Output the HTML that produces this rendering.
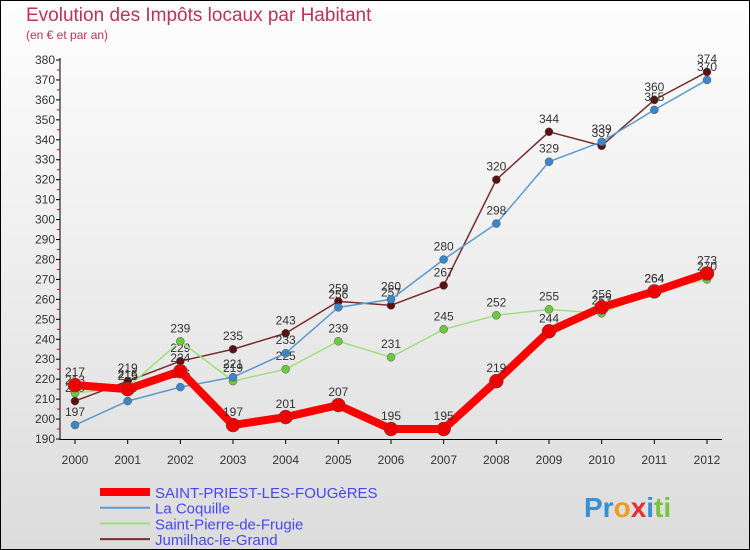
<!DOCTYPE html>
<html><head><meta charset="utf-8"><style>
body{margin:0;width:750px;height:550px;overflow:hidden;font-family:"Liberation Sans",sans-serif}
svg{display:block}
</style></head><body>
<svg id="chart" width="750" height="550" xmlns="http://www.w3.org/2000/svg">
<defs><linearGradient id="bg" x1="0" y1="0" x2="0" y2="1"><stop offset="0" stop-color="#fefefe"/><stop offset="1" stop-color="#dcdcdc"/></linearGradient></defs>
<rect x="0.5" y="0.5" width="749" height="549" fill="url(#bg)" stroke="#000"/>
<text x="26" y="21" font-size="19" fill="#c0305a">Evolution des Impôts locaux par Habitant</text>
<text x="26" y="39" font-size="12" fill="#c0305a">(en € et par an)</text>
<g id="axes"></g><g id="series"></g><g id="legend"></g>
<text x="584" y="517" font-size="28" font-weight="bold"><tspan fill="#3a8fd0">Pr</tspan><tspan fill="#f29a1e">o</tspan><tspan fill="#e53030">x</tspan><tspan fill="#3a8fd0">i</tspan><tspan fill="#7cc242">ti</tspan></text>
</svg>
<script>
const years=[2000,2001,2002,2003,2004,2005,2006,2007,2008,2009,2010,2011,2012];
const yTicks=[190,200,210,220,230,240,250,260,270,280,290,300,310,320,330,340,350,360,370,380];
const seriesNames=["SAINT-PRIEST-LES-FOUGèRES","La Coquille","Saint-Pierre-de-Frugie","Jumilhac-le-Grand"];
const saintPriest=[217,215,224,197,201,207,195,195,219,244,256,264,273];
const laCoquille=[197,209,216,221,233,256,260,280,298,329,339,355,370];
const saintPierre=[213,216,239,219,225,239,231,245,252,255,253,264,270];
const jumilhac=[209,219,229,235,243,259,257,267,320,344,337,360,374];
const NS="http://www.w3.org/2000/svg";
const X=i=>75+i*(707-75)/12;
const Y=v=>439-(v-190)*(439-60)/190;
function mk(t,a,p){const e=document.createElementNS(NS,t);for(const k in a)e.setAttribute(k,a[k]);p.appendChild(e);return e;}
const ax=document.getElementById('axes');
let l=mk('line',{x1:60,y1:58,x2:60,y2:440,stroke:'#000'},ax);


l=mk('line',{x1:60,y1:439.5,x2:722,y2:439.5,stroke:'#000'},ax);


yTicks.forEach(v=>{
 mk('line',{x1:56,y1:Y(v),x2:60,y2:Y(v),stroke:'#000'},ax);
 if(v<380) mk('line',{x1:57,y1:Y(v+5),x2:60,y2:Y(v+5),stroke:'#e00'},ax);
 const t=mk('text',{x:55,y:Y(v)+4,'font-size':12,fill:'#333','text-anchor':'end'},ax);t.textContent=v;
 
 
});
years.forEach((y,i)=>{
 mk('line',{x1:X(i),y1:439,x2:X(i),y2:444,stroke:'#000'},ax);
 const t=mk('text',{x:X(i),y:464,'font-size':12,fill:'#333','text-anchor':'middle'},ax);t.textContent=y;
 
 
});
const sg=document.getElementById('series');
const defs=[[jumilhac,'#7a2a2a','#5a1010',1.5,4,'jumilhac'],[saintPierre,'#9ee07a','#6cc83c',1.5,4,'saint-pierre'],[laCoquille,'#5a9ad0','#3a86c8',1.5,4,'la-coquille'],[saintPriest,'#ff0000','#ee0000',8,7,'saint-priest']];
defs.forEach(([d,c,dc,w,r,n])=>{
 const g=mk('g',{},sg);
 
 
 mk('polyline',{points:d.map((v,i)=>X(i)+','+Y(v)).join(' '),fill:'none',stroke:c,'stroke-width':w,'stroke-linejoin':'round'},g);
 d.forEach((v,i)=>{
  const p=mk('circle',{cx:X(i),cy:Y(v),r:r,fill:dc,stroke:'#555','stroke-width':0.5},g);
  
  
  const t=mk('text',{x:X(i),y:Y(v)-9,'font-size':12,fill:'#333','text-anchor':'middle'},g);t.textContent=v;
  
  
 });
});
const lg=document.getElementById('legend');
const lcol=['#ff0000','#5a9ad0','#9ee07a','#7a2a2a'],lw=[8,2,2,2];
seriesNames.forEach((n,i)=>{
 const y=492+i*15.7;
 const g=mk('g',{},lg);
 
 
 mk('line',{x1:100,y1:y,x2:150,y2:y,stroke:lcol[i],'stroke-width':lw[i]},g);
 const t=mk('text',{x:155,y:y+6,'font-size':15,fill:'#4848f0'},g);t.textContent=n;
});
</script>
</body></html>
